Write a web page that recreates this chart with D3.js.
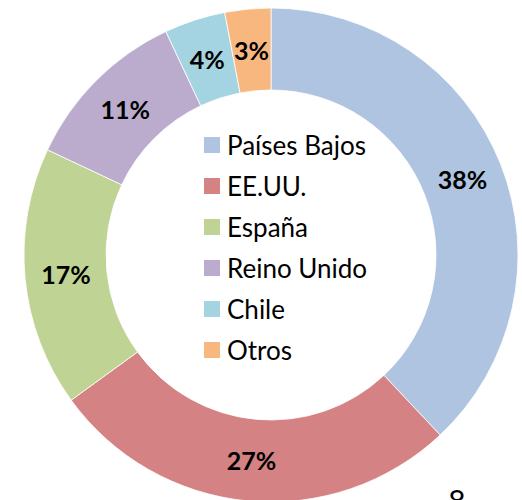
<html>
<head>
<meta charset="utf-8">
<script src="https://cdn.jsdelivr.net/npm/d3@7"></script>
<style>
  body { margin: 0px; background: #fff; }
  svg text { font-family: Lato, "Open Sans", sans-serif; fill: #000; }
  svg .pct { font-weight: bold; font-size: 25px; text-anchor: middle; dominant-baseline: central; }
  svg .leg { font-size: 26px; dominant-baseline: central; }
</style>
</head>
<body>
<script>
var w = 522, h = 500;
var countries = ["Países Bajos", "EE.UU.", "España", "Reino Unido", "Chile", "Otros"];
var shares = [38, 27, 17, 11, 4, 3];
var colors = ["#AFC4E0", "#D48283", "#BFD394", "#BBABCC", "#A4D4E1", "#F8B77E"];
var pageNumber = "8";

var cx = 271, cy = 255, outerR = 247, innerR = 165;

var svg = d3.select("body").append("svg")
  .attr("width", w)
  .attr("height", h);

var pie = d3.pie().sort(null).value(function(d) { return d; });
var arc = d3.arc().innerRadius(innerR).outerRadius(outerR);
var labelArc = d3.arc().innerRadius((innerR + outerR) / 2).outerRadius((innerR + outerR) / 2);

var g = svg.append("g").attr("transform", "translate(" + cx + "," + cy + ")");

var slices = g.selectAll("g.slice")
  .data(pie(shares))
  .enter().append("g").attr("class", "slice");

slices.append("path")
  .attr("d", arc)
  .attr("fill", function(d, i) { return colors[i]; })
  .attr("stroke", "#fff")
  .attr("stroke-width", 0.8);

slices.append("text")
  .attr("class", "pct")
  .attr("transform", function(d) { return "translate(" + labelArc.centroid(d) + ")"; })
  .text(function(d) { return d.data + "%"; });

/* legend inside the hole */
var legend = svg.append("g").attr("transform", "translate(204,145)");
var rowH = 41;
var rows = legend.selectAll("g")
  .data(countries)
  .enter().append("g")
  .attr("transform", function(d, i) { return "translate(0," + i * rowH + ")"; });

rows.append("rect")
  .attr("x", 0).attr("y", -8)
  .attr("width", 16).attr("height", 16)
  .attr("fill", function(d, i) { return colors[i]; });

rows.append("text")
  .attr("class", "leg")
  .attr("x", 23).attr("y", 0)
  .text(function(d) { return d; });

/* page number, cut off at the bottom like in the source */
svg.append("text")
  .attr("x", 457).attr("y", 512)
  .attr("text-anchor", "middle")
  .style("font-size", "30px")
  .text(pageNumber);
</script>
</body>
</html>
